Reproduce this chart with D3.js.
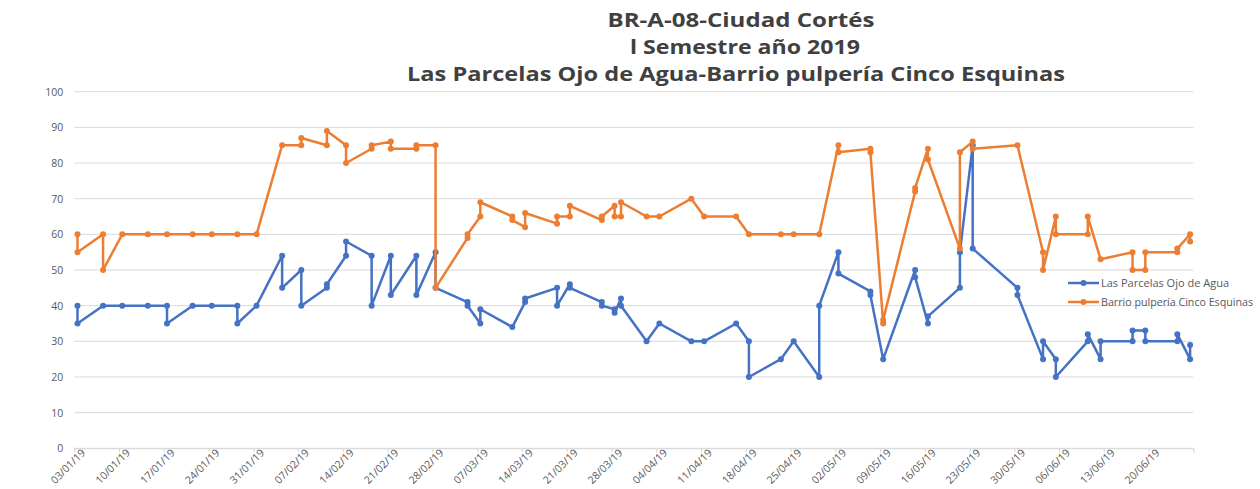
<!DOCTYPE html>
<html><head><meta charset="utf-8">
<script src="https://cdn.jsdelivr.net/npm/d3@7"></script>
<style>body{margin:0;background:#fff}</style>
</head><body><svg id="c" width="1260" height="489"></svg>
<script>
const titleLines = ["BR-A-08-Ciudad Cortés", "l Semestre año 2019", "Las Parcelas Ojo de Agua-Barrio pulpería Cinco Esquinas"];
const tickLabels = ["03/01/19","10/01/19","17/01/19","24/01/19","31/01/19","07/02/19","14/02/19","21/02/19","28/02/19","07/03/19","14/03/19","21/03/19","28/03/19","04/04/19","11/04/19","18/04/19","25/04/19","02/05/19","09/05/19","16/05/19","23/05/19","30/05/19","06/06/19","13/06/19","20/06/19"];
const axisEnd = "27/06/19";
const yTicks = [0,10,20,30,40,50,60,70,80,90,100];

const blueName = "Las Parcelas Ojo de Agua";
const blueDates = ["03/01/19","03/01/19","07/01/19","10/01/19","14/01/19","17/01/19","17/01/19","21/01/19","24/01/19","28/01/19","28/01/19","31/01/19",
"04/02/19","04/02/19","07/02/19","07/02/19","11/02/19","11/02/19","14/02/19","14/02/19","18/02/19","18/02/19","21/02/19","21/02/19","25/02/19","25/02/19","28/02/19","28/02/19",
"05/03/19","05/03/19","07/03/19","07/03/19","12/03/19","14/03/19","14/03/19","19/03/19","19/03/19","21/03/19","21/03/19","26/03/19","26/03/19","28/03/19","28/03/19","29/03/19","29/03/19",
"02/04/19","04/04/19","09/04/19","11/04/19","16/04/19","18/04/19","18/04/19","23/04/19","25/04/19","29/04/19","29/04/19",
"02/05/19","02/05/19","07/05/19","07/05/19","09/05/19","14/05/19","14/05/19","16/05/19","16/05/19","21/05/19","21/05/19","23/05/19","23/05/19","30/05/19","30/05/19",
"03/06/19","03/06/19","05/06/19","05/06/19","10/06/19","10/06/19","12/06/19","12/06/19","17/06/19","17/06/19","19/06/19","19/06/19","24/06/19","24/06/19","26/06/19","26/06/19"];
const blueValues = [40,35,40,40,40,40,35,40,40,40,35,40,
54,45,50,40,45,46,54,58,54,40,54,43,54,43,55,45,
41,40,35,39,34,41,42,45,40,46,45,41,40,39,38,42,40,
30,35,30,30,35,30,20,25,30,20,40,
55,49,44,43,25,50,48,35,37,45,55,85,56,45,43,
25,30,25,20,30,32,25,30,30,33,33,30,30,32,25,29];

const orangeName = "Barrio pulpería Cinco Esquinas";
const orangeDates = ["03/01/19","03/01/19","07/01/19","07/01/19","10/01/19","14/01/19","17/01/19","21/01/19","24/01/19","28/01/19","31/01/19",
"04/02/19","07/02/19","07/02/19","11/02/19","11/02/19","14/02/19","14/02/19","18/02/19","18/02/19","21/02/19","21/02/19","25/02/19","25/02/19","28/02/19","28/02/19",
"05/03/19","05/03/19","07/03/19","07/03/19","12/03/19","12/03/19","14/03/19","14/03/19","19/03/19","19/03/19","21/03/19","21/03/19","26/03/19","26/03/19","28/03/19","28/03/19","29/03/19","29/03/19",
"02/04/19","04/04/19","09/04/19","11/04/19","16/04/19","18/04/19","23/04/19","25/04/19","29/04/19",
"02/05/19","02/05/19","07/05/19","07/05/19","09/05/19","09/05/19","14/05/19","14/05/19","16/05/19","16/05/19","21/05/19","21/05/19","23/05/19","23/05/19","30/05/19",
"03/06/19","03/06/19","05/06/19","05/06/19","10/06/19","10/06/19","12/06/19","17/06/19","17/06/19","19/06/19","19/06/19","24/06/19","24/06/19","26/06/19","26/06/19"];
const orangeValues = [60,55,60,50,60,60,60,60,60,60,60,
85,85,87,85,89,85,80,84,85,86,84,84,85,85,45,
59,60,65,69,65,64,62,66,63,65,65,68,64,65,68,65,65,69,
65,65,70,65,65,60,60,60,60,
85,83,84,83,35,36,72,73,84,81,56,83,86,84,85,
55,50,65,60,60,65,53,55,50,50,55,55,56,60,58];

const colors = {blue:"#4472C4", orange:"#ED7D31"};
const parse = d3.timeParse("%d/%m/%y");
const svg = d3.select("#c");
const font = "'Open Sans', sans-serif";

const x = d3.scaleTime().domain([parse(tickLabels[0]), parse(axisEnd)]).range([74.3, 1193.3]);
const y = d3.scaleLinear().domain([0,100]).range([448.3, 91.7]);
const halfDay = (x(d3.timeDay.offset(parse(tickLabels[0]),1)) - x(parse(tickLabels[0])))/2;

// gridlines
svg.append("g").selectAll("line").data(yTicks).join("line")
  .attr("x1", x.range()[0]).attr("x2", x.range()[1])
  .attr("y1", d => y(d)).attr("y2", d => y(d))
  .attr("stroke", "#d9d9d9").attr("stroke-width", 1);

// y axis labels
const yAxis = svg.append("g").attr("transform", `translate(${x.range()[0]},0)`)
  .call(d3.axisLeft(y).tickValues(yTicks).tickSize(0).tickPadding(11));
yAxis.select(".domain").remove();
yAxis.selectAll("text").attr("fill", "#595959").style("font-family", font).style("font-size", "10.5px");

// x axis
const tickVals = tickLabels.map(parse).concat([parse(axisEnd)]);
const xAxis = svg.append("g").attr("transform", `translate(0,${y(0)})`)
  .call(d3.axisBottom(x).tickValues(tickVals).tickSize(4)
    .tickFormat((d,i) => i < tickLabels.length ? tickLabels[i] : ""));
xAxis.select(".domain").attr("stroke", "#d9d9d9");
xAxis.selectAll(".tick line").attr("stroke", "#d9d9d9");
xAxis.selectAll("text").attr("fill", "#595959").style("font-family", font).style("font-size", "10.5px")
  .attr("text-anchor", "end").attr("dx", "0.4em").attr("dy", "0.45em")
  .attr("transform", "rotate(-45)");

function drawSeries(dates, values, color) {
  const pts = dates.map((d,i) => ({date: parse(d), value: values[i]}));
  const line = d3.line().x(d => x(d.date) + halfDay).y(d => y(d.value));
  const g = svg.append("g");
  g.append("path").datum(pts).attr("d", line).attr("fill", "none")
    .attr("stroke", color).attr("stroke-width", 2.5).attr("stroke-linejoin", "round");
  g.selectAll("circle").data(pts).join("circle")
    .attr("cx", d => x(d.date) + halfDay).attr("cy", d => y(d.value))
    .attr("r", 3).attr("fill", color);
}
drawSeries(blueDates, blueValues, colors.blue);
drawSeries(orangeDates, orangeValues, colors.orange);

// title (reference glyphs are wider than tall, so stretch horizontally)
const titleWidths = [267, 230, 658];
const titleCenters = [741, 745, 736];
svg.append("g").selectAll("text").data(titleLines).join("text")
  .attr("x", (d,i) => titleCenters[i]).attr("y", (d,i) => 27 + i*27)
  .attr("text-anchor", "middle").attr("fill", "#404040")
  .attr("textLength", (d,i) => titleWidths[i]).attr("lengthAdjust", "spacingAndGlyphs")
  .style("font-family", font).style("font-weight", "bold").style("font-size", "19px")
  .text(d => d);

// legend
const legend = [{name: blueName, color: colors.blue, w: 128}, {name: orangeName, color: colors.orange, w: 152}];
const lg = svg.append("g").selectAll("g").data(legend).join("g")
  .attr("transform", (d,i) => `translate(1068,${283 + i*19})`);
lg.append("line").attr("x1", 0).attr("x2", 31).attr("stroke", d => d.color).attr("stroke-width", 2.5);
lg.append("circle").attr("cx", 15.5).attr("r", 3).attr("fill", d => d.color);
lg.append("text").attr("x", 33).attr("dy", "0.35em").attr("fill", "#595959")
  .attr("textLength", d => d.w).attr("lengthAdjust", "spacingAndGlyphs")
  .style("font-family", font).style("font-size", "10px").text(d => d.name);
</script></body></html>
